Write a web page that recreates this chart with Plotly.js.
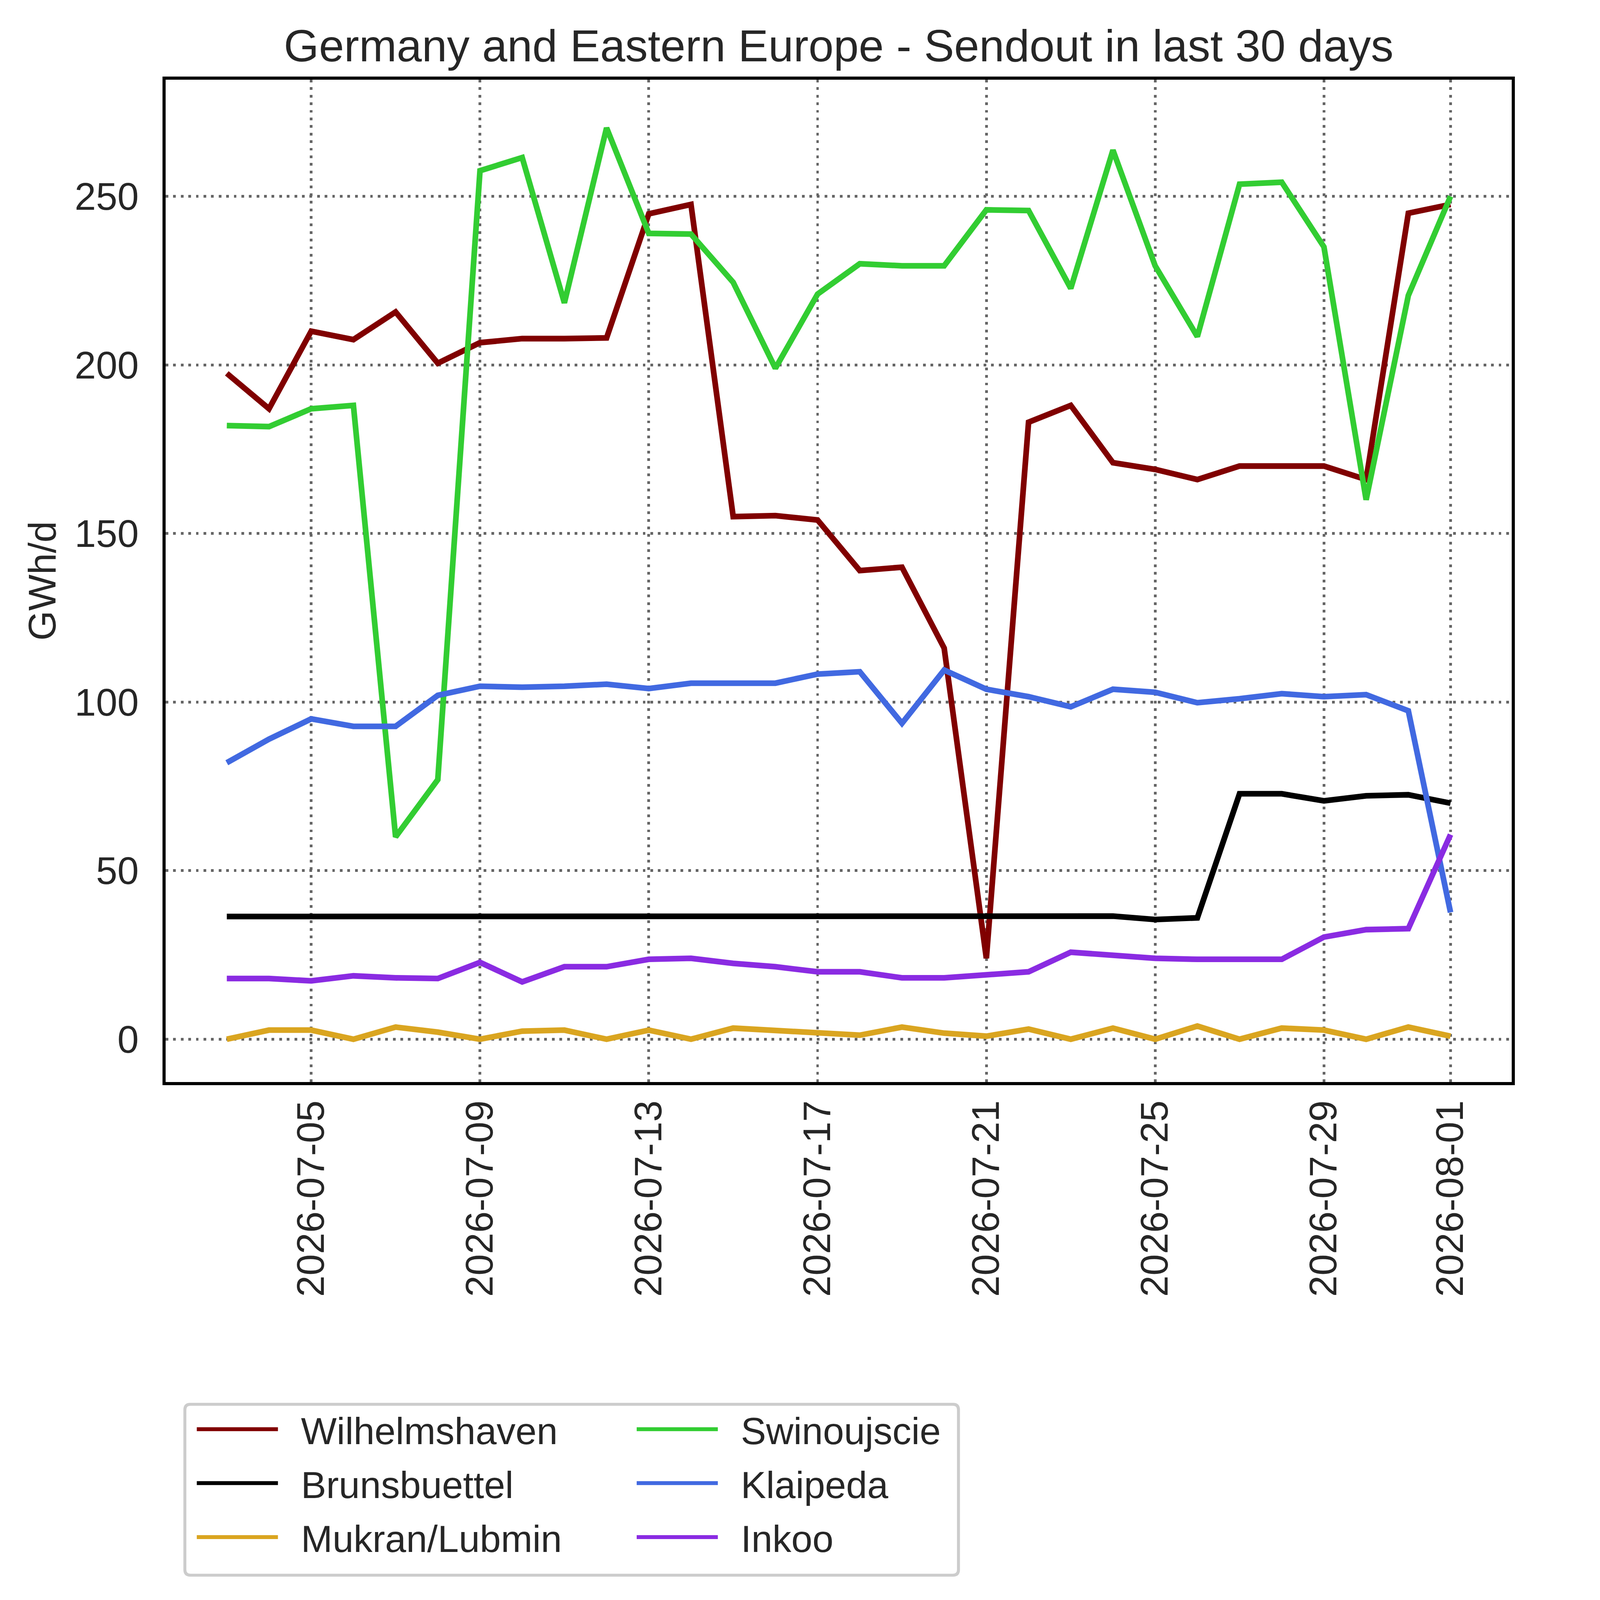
<!DOCTYPE html>
<html>
<head>
<meta charset="utf-8">
<script src="https://cdn.plot.ly/plotly-3.0.1.min.js"></script>
<style>
  html, body { margin: 0; padding: 0; background: #fff; overflow: hidden; }
</style>
</head>
<body>
<div id="chart"></div>
<script>
const dates = [
    "2026-07-03", "2026-07-04", "2026-07-05", "2026-07-06", "2026-07-07",
    "2026-07-08", "2026-07-09", "2026-07-10", "2026-07-11", "2026-07-12",
    "2026-07-13", "2026-07-14", "2026-07-15", "2026-07-16", "2026-07-17",
    "2026-07-18", "2026-07-19", "2026-07-20", "2026-07-21", "2026-07-22",
    "2026-07-23", "2026-07-24", "2026-07-25", "2026-07-26", "2026-07-27",
    "2026-07-28", "2026-07-29", "2026-07-30", "2026-07-31", "2026-08-01"
];

const wilhelmshaven = [197.5, 187, 210, 207.5, 215.7, 200.5, 206.6, 207.8, 207.8, 208,
    244.8, 247.6, 155, 155.3, 154, 139, 140, 116, 24, 183,
    188, 171, 169, 166, 170, 170, 170, 166, 245, 247.6];
const brunsbuettel = [36.4, 36.4, 36.4, 36.3, 36.3, 36.4, 36.4, 36.4, 36.4, 36.4,
    36.4, 36.3, 36.4, 36.4, 36.3, 36.3, 36.4, 36.4, 36.4, 36.4,
    36.3, 36.5, 35.5, 36, 72.8, 72.8, 70.7, 72.2, 72.5, 70];
const mukran = [0, 2.7, 2.7, 0, 3.6, 2.1, 0, 2.4, 2.7, 0,
    2.7, 0, 3.3, 2.7, 2.1, 1.2, 3.6, 1.8, 0.9, 3,
    0, 3.3, 0, 3.9, 0, 3.3, 2.7, 0, 3.6, 0.9];
const swinoujscie = [182, 181.7, 187, 188, 60, 77, 257.6, 261.5, 218.4, 270.3,
    239, 238.8, 224.5, 199, 221, 230, 229.4, 229.4, 246, 245.8,
    222.7, 263.7, 229.4, 208.4, 253.6, 254.2, 235, 160, 220.6, 250];
const klaipeda = [82, 89, 95, 92.8, 92.8, 102, 104.7, 104.4, 104.7, 105.3,
    104, 105.6, 105.6, 105.6, 108.3, 109, 93.7, 109.5, 103.8, 101.6,
    98.6, 103.8, 102.9, 99.8, 101, 102.5, 101.6, 102.2, 97.4, 37.6];
const inkoo = [18, 18, 17.3, 18.8, 18.2, 18, 22.8, 17, 21.5, 21.5,
    23.7, 24, 22.5, 21.5, 20, 20, 18.2, 18.2, 19.1, 20,
    25.8, 24.9, 24, 23.7, 23.7, 23.7, 30.3, 32.5, 32.8, 60.7];

const tickDates = ["2026-07-05", "2026-07-09", "2026-07-13", "2026-07-17",
    "2026-07-21", "2026-07-25", "2026-07-29", "2026-08-01"];
const yTicks = [0, 50, 100, 150, 200, 250];

// sizes below are for a 5672 px wide page, scaled to the real window
const W = window.innerWidth || 5672;
const H = window.innerHeight || 5915;
const S = Math.min(W / 5672, H / 5915);
const px = v => v * S;

const FONT = "Liberation Sans, Arial, sans-serif";
const TEXT = "#262626";
const GAP = "\u00a0\u00a0";

function line(name, values, color, legend) {
    return {
        x: dates,
        y: values,
        name: GAP + name,
        legendgroup: name,
        type: "scatter",
        mode: "lines",
        legend: legend,
        line: { color: color, width: px(21) }
    };
}

// drawn in the same order as the original; two legends make the two columns
const data = [
    line("Wilhelmshaven", wilhelmshaven, "#800000", "legend"),
    line("Brunsbuettel", brunsbuettel, "#000000", "legend"),
    line("Mukran/Lubmin", mukran, "#DAA520", "legend"),
    line("Swinoujscie", swinoujscie, "#32CD32", "legend2"),
    line("Klaipeda", klaipeda, "#4169E1", "legend2"),
    line("Inkoo", inkoo, "#8A2BE2", "legend2")
];

const grid = {
    showgrid: true,
    gridcolor: "#666666",
    gridwidth: px(10),
    griddash: px(10) + "px," + px(18) + "px",
    showline: true,
    linecolor: "#000000",
    linewidth: px(11),
    mirror: true,
    zeroline: false,
    automargin: false
};

function legendAt(x) {
    return {
        orientation: "v",
        x: x, xanchor: "left",
        y: -0.3193, yanchor: "top",
        itemwidth: px(300),
        traceorder: "grouped",
        tracegroupgap: px(13),
        bgcolor: "rgba(0,0,0,0)",
        borderwidth: 0,
        font: { family: FONT, size: px(140), color: TEXT }
    };
}

// legend frame with rounded corners (paper units)
const bx0 = 0.0143, bx1 = 0.589, by0 = -0.492, by1 = -0.3215;
const rx = 20 / 4975, ry = 20 / 3705;
const framePath =
    "M" + (bx0 + rx) + "," + by1 + " L" + (bx1 - rx) + "," + by1 +
    " Q" + bx1 + "," + by1 + " " + bx1 + "," + (by1 - ry) +
    " L" + bx1 + "," + (by0 + ry) +
    " Q" + bx1 + "," + by0 + " " + (bx1 - rx) + "," + by0 +
    " L" + (bx0 + rx) + "," + by0 +
    " Q" + bx0 + "," + by0 + " " + bx0 + "," + (by0 + ry) +
    " L" + bx0 + "," + (by1 - ry) +
    " Q" + bx0 + "," + by1 + " " + (bx0 + rx) + "," + by1 + " Z";

const layout = {
    width: px(5672),
    height: px(5915),
    margin: { l: px(613), r: px(84), t: px(295), b: px(1915), pad: 0 },
    paper_bgcolor: "#ffffff",
    plot_bgcolor: "#ffffff",
    font: { family: FONT, size: px(142), color: TEXT },
    title: {
        text: "Germany and Eastern Europe - Sendout in last 30 days",
        font: { family: FONT, size: px(167), color: TEXT },
        x: 0.5, xref: "paper", xanchor: "center",
        y: 1, yref: "paper", yanchor: "bottom",
        pad: { b: px(68) }
    },
    xaxis: Object.assign({}, grid, {
        type: "date",
        range: ["2026-07-01 13:12", "2026-08-02 10:48"],
        tickmode: "array",
        tickvals: tickDates,
        ticktext: tickDates,
        tickangle: -90,
        ticks: "",
        ticklabelstandoff: px(109)
    }),
    yaxis: Object.assign({}, grid, {
        range: [-12.7, 284.6],
        tickmode: "array",
        tickvals: yTicks,
        ticks: "outside",
        ticklen: px(60),
        tickcolor: "rgba(0,0,0,0)",
        title: { text: "GWh/d", standoff: px(26), font: { family: FONT, size: px(142), color: TEXT } }
    }),
    showlegend: true,
    legend: legendAt(0.0217),
    legend2: legendAt(0.3485),
    shapes: [{
        type: "path",
        xref: "paper", yref: "paper",
        path: framePath,
        line: { color: "#cccccc", width: px(11) },
        fillcolor: "rgba(0,0,0,0)",
        layer: "below"
    }]
};

Plotly.newPlot("chart", data, layout, { displayModeBar: false, staticPlot: true });
</script>
</body>
</html>
